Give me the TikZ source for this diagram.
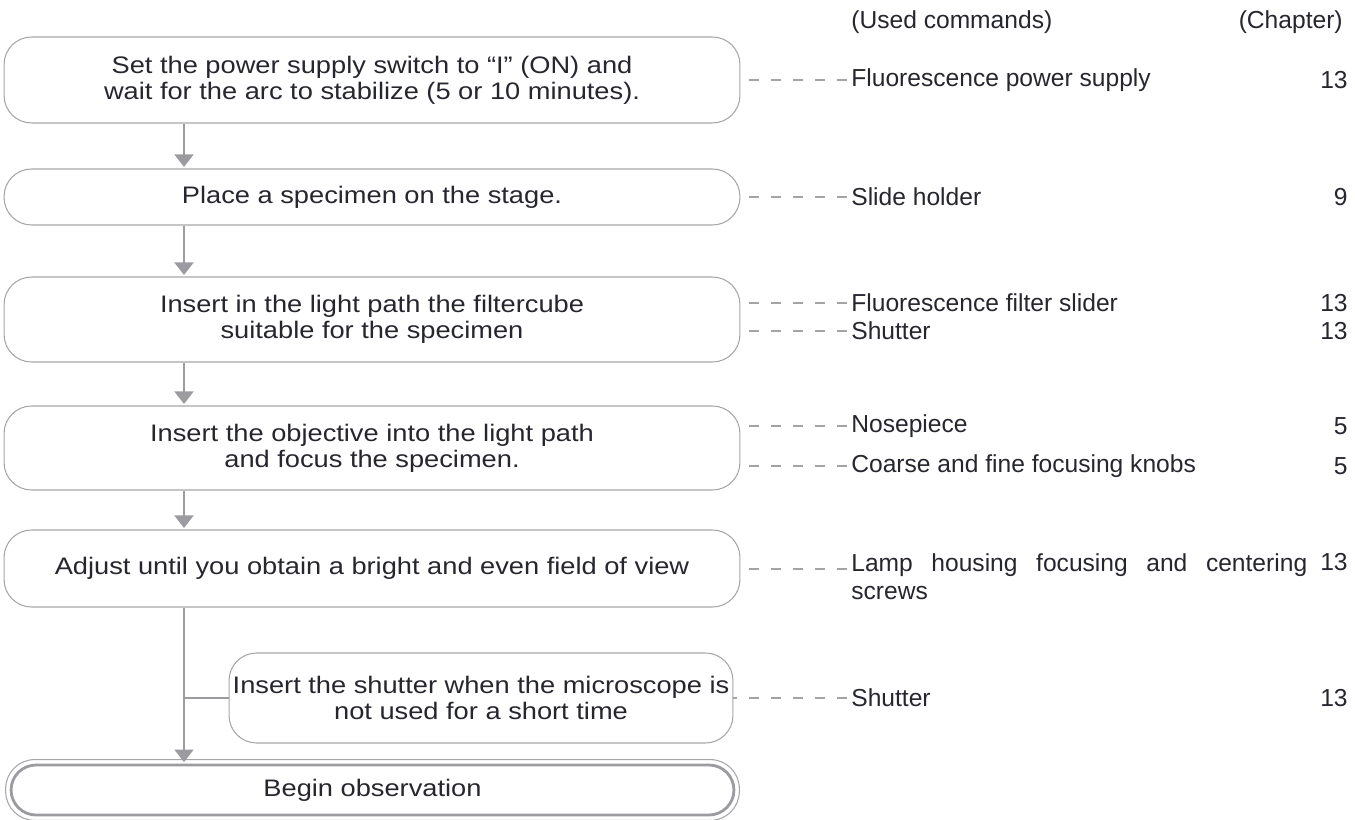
\documentclass[tikz,border=0pt]{standalone}
\usepackage{fontspec}
\setmainfont{Liberation Sans}
\newfontfamily\stepfont[FakeStretch=1.14]{Liberation Sans}
\usetikzlibrary{arrows.meta}
\definecolor{txt}{HTML}{26262E}
\definecolor{rim}{HTML}{A6A6A8}
\definecolor{flowgray}{HTML}{9C9CA0}
\definecolor{dashgray}{HTML}{A4A4A4}
\tikzset{
	stepbox/.style={draw=rim, line width=0.6pt, rounded corners=0.55cm, minimum width=14.72cm,
		align=center, text=txt, inner sep=3pt, font=\stepfont\fontsize{13.6}{14.8}\selectfont},
	flow/.style={draw=flowgray, line width=1.1pt, -{Triangle[width=0.38cm,length=0.25cm]}, shorten >=0.03cm},
	branch/.style={draw=flowgray, line width=1.1pt},
	cmd/.style={anchor=west, text=txt, inner sep=0pt, font=\fontsize{14}{15.9}\selectfont},
	chap/.style={anchor=east, text=txt, inner sep=0pt, font=\fontsize{14}{15.9}\selectfont},
	link/.style={draw=dashgray, line width=0.9pt, dash pattern=on 0.2cm off 0.24cm, shorten <=0.08cm}
}

\begin{document}
\begin{tikzpicture}[x=0.02cm, y=-0.02cm]
	\useasboundingbox (0,0) rectangle (1355,820);
	\coordinate (axis) at (184,0);

	% steps
	\node[stepbox, minimum height=1.72cm] (b1) at (372,80) {Set the power supply switch to “I” (ON) and\\wait for the arc to stabilize (5 or 10 minutes).};
	\node[stepbox, minimum height=1.12cm] (b2) at (372,197) {Place a specimen on the stage.};
	\node[stepbox, minimum height=1.70cm] (b3) at (372,319.5) {Insert in the light path the filtercube\\suitable for the specimen};
	\node[stepbox, minimum height=1.68cm] (b4) at (372,448) {Insert the objective into the light path\\and focus the specimen.};
	\node[stepbox, minimum height=1.54cm] (b5) at (372,568.5) {Adjust until you obtain a bright and even field of view};
	\node[stepbox, minimum width=10.08cm, minimum height=1.8cm, inner sep=1pt] (b6) at (481,698) {Insert the shutter when the microscope is\\not used for a short time};
	\node[stepbox, draw=flowgray, line width=1.6pt, minimum width=14.46cm, minimum height=1.0cm, rounded corners=0.5cm] (b7) at (372.5,790) {Begin observation};
	\draw[rim, line width=0.6pt, rounded corners=0.58cm] ([shift={(-4,4)}]b7.south west) rectangle ([shift={(4,-4)}]b7.north east);

	% flow
	\draw[flow] (b1.south -| axis) -- (b2.north -| axis);
	\draw[flow] (b2.south -| axis) -- (b3.north -| axis);
	\draw[flow] (b3.south -| axis) -- (b4.north -| axis);
	\draw[flow] (b4.south -| axis) -- (b5.north -| axis);
	\draw[flow] (b5.south -| axis) -- (b7.north -| axis);
	\draw[branch] (b6.west) -- (b6.west -| axis);

	% used commands and chapters
	\node[cmd] (head1) at (851,22) {(Used commands)};
	\node[chap] (head2) at (1343,22) {(Chapter)};

	\node[cmd] (c1) at (851,80) {Fluorescence power supply};
	\node[cmd] (c2) at (851,197) {Slide holder};
	\node[cmd] (c3) at (851,303) {Fluorescence filter slider};
	\node[cmd] (c4) at (851,331) {Shutter};
	\node[cmd] (c5) at (851,426) {Nosepiece};
	\node[cmd] (c6) at (851,466) {Coarse and fine focusing knobs};
	\node[cmd, anchor=north west, align=left] (c7) at (851,553) {\makebox[9.12cm][s]{Lamp housing focusing and centering}\\screws};
	\node[cmd] (c8) at (851,698) {Shutter};

	\node[chap] (n1) at (1348,80) {13};
	\node[chap] (n2) at (1348,197) {9};
	\node[chap] (n3) at (1348,303) {13};
	\node[chap] (n4) at (1348,331) {13};
	\node[chap] (n5) at (1348,426) {5};
	\node[chap] (n6) at (1348,466) {5};
	\node[chap] (n7) at (1348,562) {13};
	\node[chap] (n8) at (1348,698) {13};

	\draw[link] (c1.west) -- (b1.east);
	\draw[link] (c2.west) -- (b2.east);
	\draw[link] (c3.west) -- (b3.east |- c3.west);
	\draw[link] (c4.west) -- (b3.east |- c4.west);
	\draw[link] (c5.west) -- (b4.east |- c5.west);
	\draw[link] (c6.west) -- (b4.east |- c6.west);
	\draw[link] (c7.west |- 0,569) -- (b5.east |- 0,569);
	\draw[link] (c8.west) -- (b6.east);
\end{tikzpicture}
\end{document}
